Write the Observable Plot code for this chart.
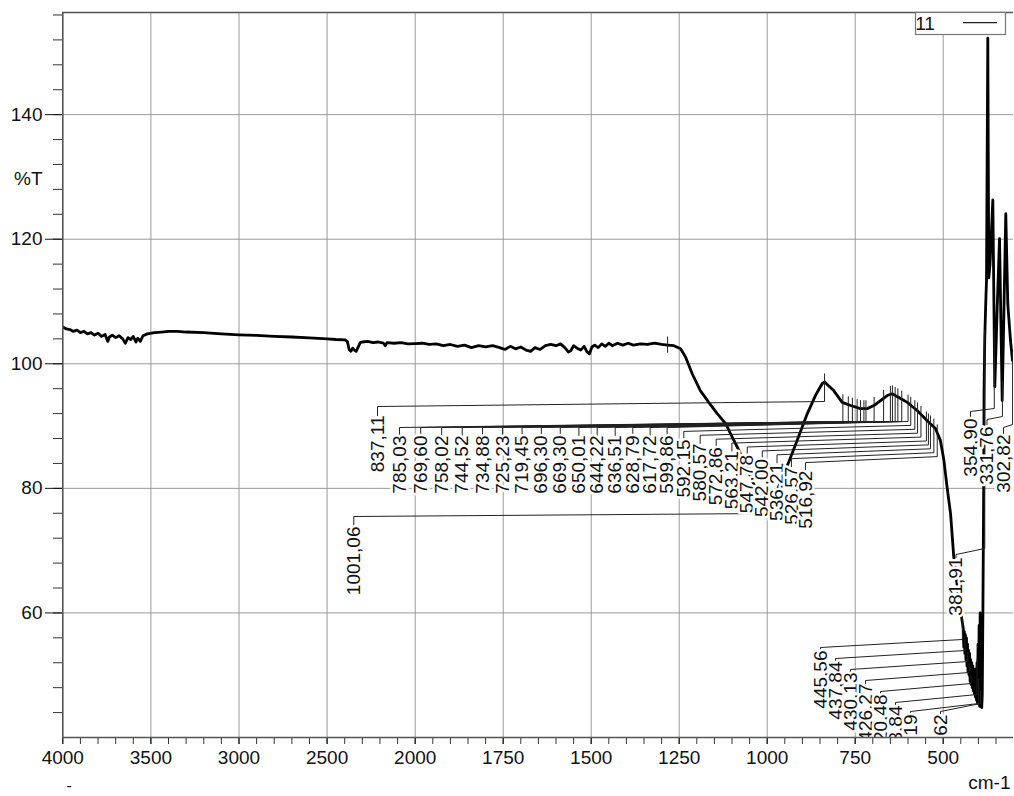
<!DOCTYPE html>
<html><head><meta charset="utf-8">
<script src="https://cdn.jsdelivr.net/npm/d3@7"></script>
<script src="https://cdn.jsdelivr.net/npm/@observablehq/plot@0.6"></script>
<style>body{margin:0;background:#fff;} svg{display:block;}</style>
</head><body><div id="chart"></div>
<script>
// ---------------- data ----------------
const seriesName = "11";
const xAxisUnit = "cm-1";
const yAxisUnit = "%T";

// spectrum (wavenumber in cm-1, transmittance in %T)
const wavenumber = [
  4000,3980,3960,3940,3920,3900,3880,3860,3840,3820,
  3800,3780,3760,3745,3735,3720,3700,3680,3660,3645,
  3630,3615,3600,3585,3575,3560,3545,3520,3480,3440,
  3400,3350,3300,3200,3100,3000,2900,2800,2700,2600,
  2500,2450,2400,2385,2375,2365,2355,2345,2335,2325,
  2312,2300,2270,2240,2210,2180,2170,2160,2120,2080,
  2040,2000,
  1980,1960,1940,1920,1900,1880,1860,1840,1820,1800,
  1780,1760,1745,1730,1715,1700,1685,1672,1660,1645,
  1630,1615,1600,1587,1575,1565,1558,1550,1540,1530,
  1520,1512,1505,1498,1490,1480,1470,1460,1450,1440,
  1425,1410,1395,1380,1360,1340,1320,1300,1283,1265,
  1246,1232,1213,1190,1166,1142,1118,1099,1083,1060,
  1040,1020,1001,985,965,939,915,886,863,844,
  837,828,811,787,763,735,716,697,678,659,
  645,626,602,574,546,522,508,498,489,479,
  470,455,
  443,441.5,440,438.5,437,435.5,434,432.5,431,429.5,
  428,426.5,425,423.5,422,420.5,419,417.5,416,414.5,
  413,411.5,410,408.5,407,405.5,404,402.5,401,399.5,
  398,396.5,395,393.5,392,390.5,389,
  387,385,384,382,379,377,373.3,370.5,367,359,
  353.4,346,340,332.4,322.2,316.5,308.8,303,300
];
const transmittance = [
  105.9,105.6,105.5,105.2,105.4,105.0,105.2,104.8,105.0,104.6,
  104.9,104.4,104.7,103.6,104.3,104.6,104.2,104.5,104.0,103.3,
  104.2,103.9,104.4,103.5,104.1,103.6,104.5,104.8,105.0,105.1,
  105.2,105.2,105.1,105.0,104.8,104.65,104.55,104.4,104.3,104.15,
  104.0,103.9,103.85,103.6,102.3,102.0,102.5,102.2,102.0,102.6,
  103.4,103.5,103.6,103.4,103.5,103.3,102.9,103.4,103.3,103.4,
  103.2,103.25,
  103.3,103.1,103.2,102.9,103.1,102.8,103.0,102.6,102.9,102.7,
  102.9,102.6,102.3,102.8,102.4,102.7,102.2,102.0,102.6,102.3,
  102.9,103.1,102.9,103.2,102.6,101.9,102.1,102.9,102.5,102.2,
  102.8,101.9,101.6,102.7,103.0,102.6,103.2,102.8,103.3,102.9,
  103.3,103.0,103.3,103.0,103.2,103.1,103.3,103.1,103.0,102.9,
  102.4,101.1,98.4,95.7,93.8,92.0,90.4,88.2,86.4,83.6,
  80.9,78.6,77.2,77.9,80.6,84.2,87.7,92.0,94.9,96.8,
  97.1,96.6,95.7,93.8,93.3,92.8,92.8,93.3,94.1,94.9,
  95.2,94.6,93.8,92.5,90.9,89.6,87.7,84.5,80.2,75.9,
  69.0,62.0,
  57.5,54.5,57,53.5,56.5,52.5,56,51.5,55,50.5,
  54,50,53.5,49,52.5,48.5,52,48,51.5,47.5,
  51,47,50.5,46.5,51,46,52,45.5,55,45.5,
  58,45,60,45,57,44.8,47,
  62,80,95,104,110,113.4,152.3,113.8,116,126.3,
  96.3,110,120.1,94.1,124.1,109.6,103.7,100.5,102
];

// picked peaks (labels as printed)
const peakUpper   = ["837,11"];
const peaksMid    = ["785,03","769,60","758,02","744,52","734,88","725,23","719,45","696,30",
                     "669,30","650,01","644,22","636,51","628,79","617,72","599,86","592,15",
                     "580,57","572,86","563,21","547,78","542,00","536,21","526,57","516,92"];
const peakLow     = ["1001,06"];
const peakEdge    = ["381,91"];
const peaksBottom = ["445,56","437,84","430,13","426,27","420,48","403,84","399,19","393,62"];
const peaksRight  = ["354,90","331,76","302,82"];
const markedPeaks = [1283];

const xMajorTicks = [4000,3500,3000,2500,2000,1750,1500,1250,1000,750,500];
const xMinorTicks = d3.range(4000, 2000, -100).concat(d3.range(2000, 349, -50));
const yMajorTicks = [60,80,100,120,140];
const yMinorTicks = d3.range(44, 157, 4);

// ---------------- layout ----------------
const W = 1014, H = 796;
const mTop = 12, mBottom = 59, mLeft = 62, mRight = 1;
const xDomain = [4000, 2000, 300];
const xRange = [62.3, 414.7, 1013.1];
const yDomain = [40, 156.4];
const font = "'Liberation Sans', Arial, sans-serif";

const xPix = d3.scaleLinear(xDomain, xRange);
const yPix = d3.scaleLinear(yDomain, [H - mBottom, mTop]);

const spectrum = wavenumber.map((w, i) => ({w, t: transmittance[i]}));
const asc = spectrum.slice().sort((a, b) => a.w - b.w);
const bis = d3.bisector(d => d.w).left;
function curveAt(w) {
  const i = bis(asc, w);
  if (i <= 0) return asc[0].t;
  if (i >= asc.length) return asc[asc.length - 1].t;
  const a = asc[i - 1], b = asc[i];
  return a.t + (b.t - a.t) * (w - a.w) / (b.w - a.w);
}

// label groups: pixel layout of the rotated peak labels (OPUS-style)
const groups = [
  {labels: peakUpper,   lx: i => 377,                            top: i => 415, a: 9, b: 5},
  {labels: peaksMid,    lx: i => 399 + 21.4 * i - 0.163 * i * i, top: i => 435 + Math.max(0, i - 14) * 3.9, a: 8, b: 6},
  {labels: peakLow,     lx: i => 353.3,                          top: i => 526, a: 10, b: 3},
  {labels: peakEdge,    lx: i => 955.5,                          top: i => 557, a: 3, b: 6},
  {labels: peaksBottom, lx: i => 820 + 15 * (i < 7 ? i : i + 1), top: i => Math.min(650 + 11 * (i < 7 ? i : i + 1), 714), a: 3, b: 8},
  {labels: peaksRight,  lx: i => 970 + 16.5 * i,                 top: i => 418 + 8 * i, a: 7, b: 3}
];

const labelRows = [];
const leaderRows = [];
groups.forEach((g, gi) => g.labels.forEach((txt, i) => {
  const w = +txt.replace(",", ".");
  const lx = g.lx(i), top = g.top(i);
  const px = xPix(w);
  const cy = yPix(curveAt(w));
  const id = gi + "-" + i;
  labelRows.push({text: txt, x: xPix.invert(lx), y: yPix.invert(top)});
  [[lx, top], [lx, top - g.a], [px, top - g.a - g.b], [px, cy - 8]]
    .forEach(([X, Y]) => leaderRows.push({id, x: xPix.invert(X), y: yPix.invert(Y)}));
}));

const markerRows = markedPeaks.map(w => ({w, y1: curveAt(w) + 1.3, y2: curveAt(w) - 1.3}));

const svg = Plot.plot({
  width: W, height: H,
  marginTop: mTop, marginBottom: mBottom, marginLeft: mLeft, marginRight: mRight,
  style: {fontFamily: font, fontSize: "19px", background: "white", color: "#111"},
  x: {type: "linear", domain: xDomain, range: xRange, label: null},
  y: {type: "linear", domain: yDomain, label: null},
  marks: [
    Plot.gridX({ticks: xMajorTicks.slice(1), stroke: "#9a9a9a", strokeOpacity: 1, strokeWidth: 1}),
    Plot.gridY({ticks: yMajorTicks, stroke: "#9a9a9a", strokeOpacity: 1, strokeWidth: 1}),
    Plot.line(spectrum, {x: "w", y: "t", stroke: "#000", strokeWidth: 2.8, strokeLinejoin: "round", clip: true}),
    Plot.ruleX(markerRows, {x: "w", y1: "y1", y2: "y2", stroke: "#222", strokeWidth: 1, clip: true}),
    Plot.line(leaderRows, {x: "x", y: "y", z: "id", stroke: "#222", strokeWidth: 1, curve: "linear", clip: true}),
    Plot.text(labelRows, {x: "x", y: "y", text: "text", rotate: -90, textAnchor: "end", lineAnchor: "middle",
      fontSize: 19, fill: "#111", stroke: "white", strokeWidth: 5, strokeLinejoin: "round", paintOrder: "stroke", clip: true}),
    Plot.axisX({ticks: xMinorTicks, tickSize: 7, tickFormat: () => "", color: "#333", label: null}),
    Plot.axisX({ticks: xMajorTicks, tickSize: 7, tickPadding: 6, fontSize: 19, color: "#111", label: null, tickFormat: d => String(d)}),
    Plot.axisY({ticks: yMinorTicks, tickSize: 9, tickFormat: () => "", color: "#333", label: null}),
    Plot.axisY({ticks: yMajorTicks, tickSize: 17, tickPadding: 3, fontSize: 19, color: "#111", label: null, tickFormat: d => String(d)}),
    Plot.ruleX([xDomain[0]], {stroke: "#555", strokeWidth: 1.6}),
    Plot.ruleY([yDomain[0]], {stroke: "#555", strokeWidth: 1.6}),
    Plot.ruleY([yDomain[1]], {stroke: "#555", strokeWidth: 1.6}),
    Plot.text([yAxisUnit], {frameAnchor: "top-left", dx: -20, dy: 166, textAnchor: "end", lineAnchor: "middle", fontSize: 19, fill: "#111"}),
    Plot.text([xAxisUnit], {frameAnchor: "bottom-right", dx: -3, dy: 45, textAnchor: "end", lineAnchor: "middle", fontSize: 19, fill: "#111"}),
    Plot.text(["-"], {frameAnchor: "bottom-left", dx: 4, dy: 48, lineAnchor: "middle", fontSize: 16, fill: "#111"})
  ]
});

// legend box (top right, inside the frame)
const lg = d3.select(svg).append("g").attr("font-family", font);
const right = W - mRight;
lg.append("rect").attr("x", right - 97.5).attr("y", mTop + 0.5).attr("width", 90).attr("height", 22)
  .attr("fill", "white").attr("stroke", "#777").attr("stroke-width", 1.2);
lg.append("text").attr("x", right - 88).attr("y", mTop + 18).attr("font-size", 19).attr("fill", "#111").text(seriesName);
lg.append("line").attr("x1", right - 50).attr("x2", right - 16).attr("y1", mTop + 10.7).attr("y2", mTop + 10.7)
  .attr("stroke", "#222").attr("stroke-width", 1.2);

document.getElementById("chart").append(svg);
</script>
</body></html>
